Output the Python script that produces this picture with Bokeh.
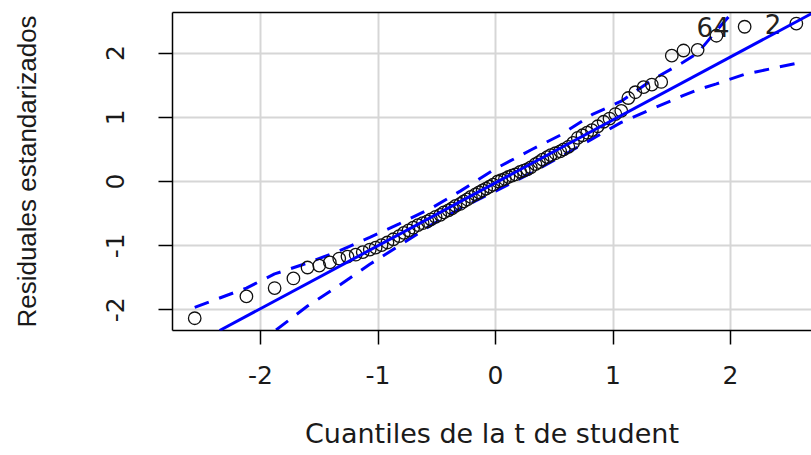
from bokeh.plotting import figure
from bokeh.models import Range1d, LinearAxis, FixedTicker, Slope
from bokeh.embed import file_html
from bokeh.resources import INLINE
from bokeh.core.properties import value

# Theoretical t quantiles (x) and ordered studentized residuals (y), 80 observations
quantiles = [
    -2.56, -2.12, -1.88, -1.72, -1.60, -1.50, -1.41, -1.33, -1.26, -1.19,
    -1.13, -1.07, -1.02, -0.97, -0.92, -0.87, -0.82, -0.78, -0.74, -0.70,
    -0.66, -0.62, -0.58, -0.55, -0.51, -0.47, -0.44, -0.40, -0.37, -0.34,
    -0.30, -0.27, -0.24, -0.21, -0.17, -0.14, -0.11, -0.08, -0.05, -0.02,
    0.02, 0.05, 0.08, 0.11, 0.14, 0.17, 0.21, 0.24, 0.27, 0.30,
    0.34, 0.37, 0.40, 0.44, 0.47, 0.51, 0.55, 0.58, 0.62, 0.66,
    0.70, 0.74, 0.78, 0.82, 0.87, 0.92, 0.97, 1.02, 1.07, 1.13,
    1.19, 1.26, 1.33, 1.41, 1.50, 1.60, 1.72, 1.88, 2.12, 2.56,
]
residuals = [
    -2.13, -1.79, -1.66, -1.51, -1.34, -1.31, -1.26, -1.20, -1.17, -1.14,
    -1.10, -1.06, -1.03, -0.99, -0.95, -0.90, -0.85, -0.80, -0.76, -0.72,
    -0.68, -0.65, -0.62, -0.59, -0.55, -0.52, -0.48, -0.45, -0.42, -0.38,
    -0.35, -0.31, -0.28, -0.24, -0.20, -0.17, -0.14, -0.11, -0.08, -0.05,
    0.00, 0.02, 0.04, 0.07, 0.09, 0.11, 0.15, 0.17, 0.19, 0.22,
    0.27, 0.30, 0.34, 0.38, 0.41, 0.44, 0.47, 0.50, 0.54, 0.60,
    0.68, 0.72, 0.76, 0.80, 0.86, 0.93, 0.98, 1.05, 1.10, 1.30,
    1.39, 1.47, 1.51, 1.55, 1.96, 2.04, 2.05, 2.27, 2.41, 2.46,
]

# Simulated 95% envelope
env_x = [-2.56, -2.12, -1.88, -1.60, -1.33, -1.07, -0.82, -0.55, -0.30, 0.00,
         0.30, 0.55, 0.82, 1.07, 1.33, 1.60, 1.72, 1.88, 2.12, 2.56]
env_upper = [-1.96, -1.66, -1.44, -1.27, -1.08, -0.87, -0.66, -0.42, -0.15, 0.20,
             0.49, 0.72, 1.04, 1.25, 1.58, 1.86, 2.00, 2.35, 2.85, 3.50]
env_lower = [-3.30, -2.80, -2.33, -1.94, -1.62, -1.29, -1.00, -0.68, -0.42, -0.15,
             0.13, 0.38, 0.66, 0.92, 1.13, 1.34, 1.43, 1.52, 1.67, 1.84]

# Robust reference line
line_slope = 0.98
line_intercept = -0.02

# Identified observations (label, position in the ordered residuals)
id_labels = ["64", "2"]
id_pos = [78, 79]

ticks = [-2, -1, 0, 1, 2]
tick_text = ["-2", "-1", "0", "1", "2"]

p = figure(
    width=811, height=455,
    x_range=Range1d(-2.749, 2.689), y_range=Range1d(-2.321, 2.632),
    output_backend="svg", toolbar_location=None,
    min_border_left=172, min_border_right=0, min_border_top=12, min_border_bottom=125,
)
p.outline_line_color = None
p.background_fill_color = "white"
p.border_fill_color = "white"

# grid
for g in (p.xgrid, p.ygrid):
    g.ticker = FixedTicker(ticks=ticks)
    g.grid_line_color = "#d6d6d6"
    g.grid_line_width = 2

# axes
tick_color = "#1a1a1a"
overrides = {t: s for t, s in zip(ticks, tick_text)}
p.xaxis.ticker = FixedTicker(ticks=ticks)
p.yaxis.ticker = FixedTicker(ticks=ticks)
for ax in (p.xaxis[0], p.yaxis[0]):
    ax.axis_line_color = "black"
    ax.axis_line_width = 1.5
    ax.major_tick_line_color = "black"
    ax.major_tick_line_width = 1.5
    ax.major_tick_out = 14
    ax.major_tick_in = 0
    ax.minor_tick_line_color = None
    ax.major_label_overrides = overrides
    ax.major_label_text_font = "DejaVu Sans"
    ax.major_label_text_font_size = "25px"
    ax.major_label_text_color = tick_color
    ax.axis_label_text_font_style = "normal"
    ax.axis_label_text_color = tick_color

p.xaxis.major_label_standoff = 21
p.xaxis.axis_label = "Cuantiles de la t de student"
p.xaxis.axis_label_text_font = "DejaVu Sans"
p.xaxis.axis_label_text_font_size = "27px"
p.xaxis.axis_label_standoff = 31

p.yaxis.major_label_orientation = "vertical"
p.yaxis.major_label_standoff = 34
p.yaxis.axis_label = "Residuales estandarizados"
p.yaxis.axis_label_text_font = "Liberation Sans"
p.yaxis.axis_label_text_font_size = "26px"
p.yaxis.axis_label_standoff = 62

# top border of the box
top = LinearAxis(ticker=FixedTicker(ticks=[]), major_label_text_font_size="0px",
                 major_tick_line_color=None, minor_tick_line_color=None,
                 axis_line_color="black", axis_line_width=1.5)
p.add_layout(top, "above")

# envelope and reference line
p.line(env_x, env_upper, line_color="#0000ff", line_width=3, line_dash="15 11")
p.line(env_x, env_lower, line_color="#0000ff", line_width=3, line_dash="15 11")
p.add_layout(Slope(gradient=line_slope, y_intercept=line_intercept,
                   line_color="#0000ff", line_width=3))

# points
p.scatter(quantiles, residuals, marker="circle", size=12.5, fill_color=None,
          line_color="#111111", line_width=1.3)

# labels of identified observations
p.text([quantiles[i] for i in id_pos], [residuals[i] for i in id_pos], text=id_labels,
       text_align="right", text_baseline="middle", x_offset=-15,
       text_font=value("DejaVu Sans"), text_font_size="26px", text_color="#222222")

open("out.html", "w").write(file_html(p, INLINE))
